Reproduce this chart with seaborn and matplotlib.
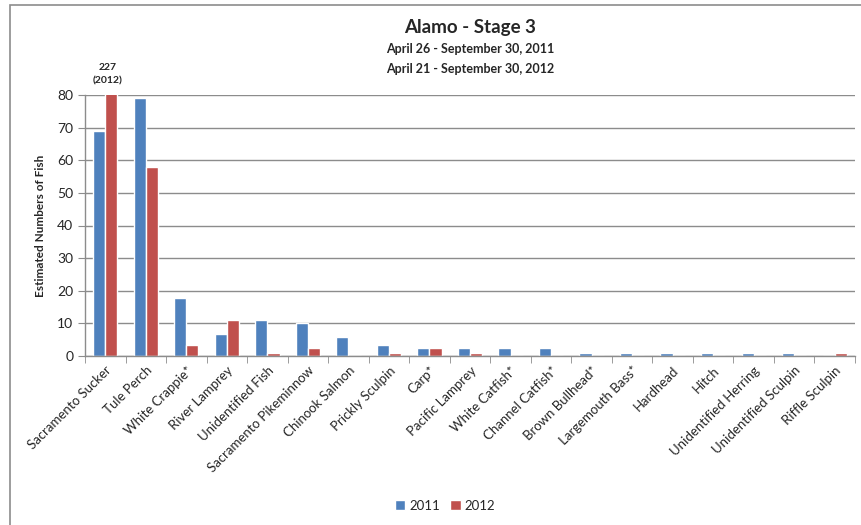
import pandas as pd
import numpy as np
import matplotlib.pyplot as plt
import seaborn as sns
from matplotlib.patches import Rectangle

# data
species = ['Sacramento Sucker', 'Tule Perch', 'White Crappie*', 'River Lamprey',
           'Unidentified Fish', 'Sacramento Pikeminnow', 'Chinook Salmon',
           'Prickly Sculpin', 'Carp*', 'Pacific Lamprey', 'White Catfish*',
           'Channel Catfish*', 'Brown Bullhead*', 'Largemouth Bass*', 'Hardhead',
           'Hitch', 'Unidentified Herring', 'Unidentified Sculpin', 'Riffle Sculpin']
fish_2011 = [69, 79, 17.7, 6.6, 11, 10, 5.7, 3.3, 2.3, 2.3, 2.3, 2.3, 1, 1, 1, 1, 1, 1, 0]
fish_2012 = [227, 58, 3.3, 11, 1, 2.3, 0, 1, 2.3, 1, 0, 0, 0, 0, 0, 0, 0, 0, 1]
years = ['2011', '2012']
colors = ['#4F81BD', '#C0504D']

df = pd.DataFrame({
    'species': species * 2,
    'count': fish_2011 + fish_2012,
    'year': [years[0]] * len(species) + [years[1]] * len(species),
})

sns.set_style('white')
plt.rcParams['font.family'] = ['Lato', 'DejaVu Sans']

fig = plt.figure(figsize=(8.62, 5.25), dpi=100)
ax = fig.add_axes([85 / 862, 1 - 356 / 525, 770 / 862, 261 / 525])

sns.barplot(data=df, x='species', y='count', hue='year', palette=colors,
            width=0.6, saturation=1, ax=ax, legend=True)

ax.set_ylim(0, 80)
ax.set_xlim(-0.5, len(species) - 0.5)
ax.set_yticks(range(0, 81, 10))
ax.yaxis.grid(True, color='#8c8c8c', linewidth=1)
ax.set_axisbelow(True)
for s in ['top', 'right']:
    ax.spines[s].set_visible(False)
for s in ['left', 'bottom']:
    ax.spines[s].set_color('#8c8c8c')
    ax.spines[s].set_linewidth(1)

# category labels, ticks between categories
ax.set_xticks(range(len(species)))
ax.set_xticklabels(species, rotation=45, ha='right', rotation_mode='anchor', fontsize=9.5)
ax.tick_params(axis='x', which='major', length=0, pad=6)
ax.set_xticks(np.arange(-0.5, len(species), 1), minor=True)
ax.tick_params(axis='x', which='minor', length=5, color='#8c8c8c', bottom=True)
ax.tick_params(axis='y', length=5, color='#8c8c8c', left=True, labelsize=10)

ax.set_xlabel('')
ax.set_ylabel('Estimated Numbers of Fish', fontsize=8.5, fontweight='bold', labelpad=8)

# off-scale value note for the clipped 2012 bar
fig.text(108 / 862, 1 - 68 / 525, str(fish_2012[0]), ha='center', va='center',
         fontsize=7.5, fontweight='bold')
fig.text(108 / 862, 1 - 81 / 525, '(2012)', ha='center', va='center',
         fontsize=7.5, fontweight='bold')

fig.text(470 / 862, 1 - 28 / 525, 'Alamo - Stage 3', ha='center', va='center',
         fontsize=13.5, fontweight='bold')
fig.text(470 / 862, 1 - 49 / 525, 'April 26 - September 30, 2011', ha='center',
         va='center', fontsize=9, fontweight='bold')
fig.text(470 / 862, 1 - 69 / 525, 'April 21 - September 30, 2012', ha='center',
         va='center', fontsize=9, fontweight='bold')

ax.legend(loc='center', bbox_to_anchor=(445 / 862, 1 - 506 / 525),
          bbox_transform=fig.transFigure, ncol=2, frameon=False, fontsize=9.5,
          handlelength=0.8, handleheight=0.8, handletextpad=0.3, columnspacing=0.8)

# outer chart frame
fig.patches.append(Rectangle((10 / 862, -0.1), 1.2, 1 - 5 / 525 + 0.1,
                             transform=fig.transFigure, fill=False,
                             edgecolor='#8c8c8c', linewidth=1.2))

fig.savefig('out.png', dpi=100)
